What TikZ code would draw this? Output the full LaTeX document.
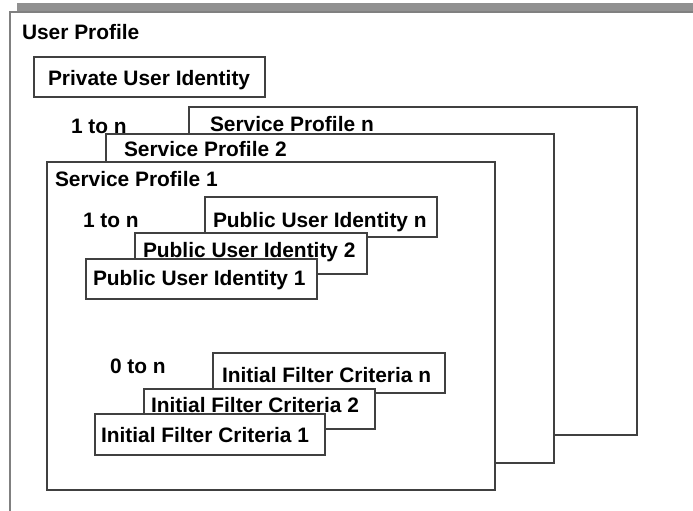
\documentclass[tikz,border=0pt]{standalone}
\usepackage{fontspec}
\setmainfont{Liberation Sans}
\newcommand{\lbfont}{\fontsize{20.9}{24}\selectfont\bfseries}
\begin{document}
\begin{tikzpicture}[x=1pt,y=-1pt,
  frame/.style={draw=black!75, line width=1.1pt, fill=white, inner sep=0pt, outer sep=0pt, anchor=north west},
  lbl/.style={anchor=base west, inner sep=0pt, outer sep=0pt, font=\lbfont}]
\useasboundingbox (0,0) rectangle (693,511);
% outer user profile frame
\fill[fill=black!43] (17,3) rectangle (693,11);
\draw[draw=black!50, line width=1.6pt] (10,511) -- (10,12) -- (693,12);
\node[lbl] (upT) at (22,40) {User Profile};
% private user identity
\node[frame, minimum width=231pt, minimum height=40pt] (pud) at (34,57) {};
\node[lbl] (pudT) at (48,85) {Private User Identity};
% service profiles
\node[frame, minimum width=448pt, minimum height=328pt] (spn) at (189,107) {};
\node[lbl] (spnT) at (210,131) {Service Profile n};
\node[lbl] (spm) at (71,133) {1 to n};
\node[frame, minimum width=448pt, minimum height=329pt] (sp2) at (106,134) {};
\node[lbl] (sp2T) at (124,156) {Service Profile 2};
\node[frame, minimum width=448pt, minimum height=328pt] (sp1) at (47,162) {};
\node[lbl] (sp1T) at (55,186) {Service Profile 1};
% public user identities
\node[lbl] (puim) at (83,227) {1 to n};
\node[frame, minimum width=232pt, minimum height=40pt] (puin) at (205,197) {};
\node[lbl] (puinT) at (213,227) {Public User Identity n};
\node[frame, minimum width=232pt, minimum height=41pt] (pui2) at (135,233) {};
\node[lbl] (pui2T) at (143,257) {Public User Identity 2};
\node[frame, minimum width=231pt, minimum height=40pt] (pui1) at (86,259) {};
\node[lbl] (pui1T) at (93,285) {Public User Identity 1};
% initial filter criteria
\node[lbl] (ifcm) at (110,373) {0 to n};
\node[frame, minimum width=232pt, minimum height=40pt] (ifcn) at (213,353) {};
\node[lbl] (ifcnT) at (222,382) {Initial Filter Criteria n};
\node[frame, minimum width=231pt, minimum height=40pt] (ifc2) at (144,389) {};
\node[lbl] (ifc2T) at (151,412) {Initial Filter Criteria 2};
\node[frame, minimum width=230pt, minimum height=41pt] (ifc1) at (95,414) {};
\node[lbl] (ifc1T) at (101,442) {Initial Filter Criteria 1};
\end{tikzpicture}
\end{document}
